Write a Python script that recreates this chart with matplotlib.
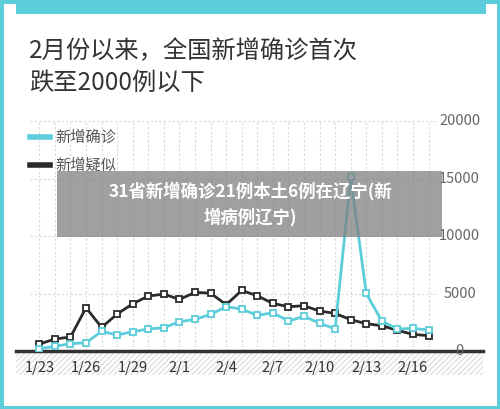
import matplotlib
matplotlib.use("Agg")
import matplotlib.pyplot as plt
from matplotlib.patches import Rectangle
import numpy as np

plt.rcParams['font.family'] = ['Noto Sans CJK SC', 'DejaVu Sans']

dates = ['1/23','1/24','1/25','1/26','1/27','1/28','1/29','1/30','1/31','2/1','2/2','2/3','2/4',
         '2/5','2/6','2/7','2/8','2/9','2/10','2/11','2/12','2/13','2/14','2/15','2/16','2/17']
confirmed = [203,406,638,725,1711,1392,1682,1914,2030,2552,2755,3190,3857,
             3654,3103,3335,2610,3016,2436,1914,15152,5017,2610,1914,1972,1827]
suspected = [609,1044,1218,3770,2059,3219,4118,4785,4959,4495,5104,5046,4031,
             5278,4814,4147,3857,3944,3480,3277,2726,2378,2204,1798,1450,1334]
yticks = [0,5000,10000,15000,20000]
title = "2月份以来，全国新增确诊首次\n跌至2000例以下"
legend_labels = ["新增确诊", "新增疑似"]
overlay = "31省新增确诊21例本土6例在辽宁(新\n增病例辽宁)"

CYAN = '#5ccdda'
DARK = '#2b2b2b'

fig = plt.figure(figsize=(5, 4.09), dpi=100)
W, H = 500, 409
def fx(px): return px / W
def fy(py): return 1 - py / H

fig.patches.append(Rectangle((0, 0), 1, 1, transform=fig.transFigure, fill=False,
                             edgecolor=CYAN, linewidth=5, zorder=-2))
fig.patches.append(Rectangle((fx(16), fy(14)), fx(470), 10/H, transform=fig.transFigure,
                             facecolor=CYAN, edgecolor='none', zorder=-2))
fig.patches.append(Rectangle((fx(16), fy(375)), fx(467), 24/H, transform=fig.transFigure,
                             facecolor='white', edgecolor='#e0e0e0', hatch='//////', lw=0, zorder=-1))

ax = fig.add_axes([fx(16), fy(351), fx(467), fy(110) - fy(351)])
ax.patch.set_alpha(0)
x = np.arange(len(dates))
ax.set_xlim(-1.5, 28.5)
ax.set_ylim(0, 21000)
for s in ['top', 'right', 'left']:
    ax.spines[s].set_visible(False)
ax.spines['bottom'].set_color('#333333')
ax.spines['bottom'].set_linewidth(2.5)
ax.set_yticks([])
for v in yticks:
    ax.plot([-0.6, 25.5], [v, v], ls=(0, (2, 2)), color='#d8d8d8', lw=0.8, zorder=1)
    ax.text(27.0, v, f"{v}", ha='center', va='center', fontsize=10.5, color='#666666')
for i in x:
    ax.plot([i, i], [0, 20000], ls=(0, (2, 2)), color='#d8d8d8', lw=0.8, zorder=1)
ax.set_xticks(x[::3])
ax.set_xticklabels(dates[::3], fontsize=10.5, color='#333333')
ax.tick_params(axis='x', length=0, pad=7)

ax.plot(x, suspected, color=DARK, lw=2, marker='s', ms=5, mfc='white', mec=DARK, mew=1.3, zorder=3)
ax.plot(x, confirmed, color=CYAN, lw=2, marker='s', ms=5, mfc='white', mec=CYAN, mew=1.3, zorder=4)

fig.text(fx(29), fy(67), title, fontsize=17.5, fontweight='medium', color='#333333',
         va='center', ha='left', linespacing=1.3)

fig.add_artist(plt.Line2D([fx(30), fx(50)], [fy(137), fy(137)], color=CYAN, lw=4, transform=fig.transFigure))
fig.add_artist(plt.Line2D([fx(30), fx(50)], [fy(165), fy(165)], color=DARK, lw=4, transform=fig.transFigure))
fig.text(fx(55), fy(137), legend_labels[0], fontsize=11, color='#555555', va='center')
fig.text(fx(55), fy(165), legend_labels[1], fontsize=11, color='#555555', va='center')

fig.patches.append(Rectangle((fx(57), fy(237)), fx(385), 66/H, transform=fig.transFigure,
                             facecolor='#808080', alpha=0.75, edgecolor='none', zorder=10))
fig.text(fx(250), fy(204), overlay, fontsize=12.5, fontweight='bold', color='white',
         ha='center', va='center', linespacing=1.45, zorder=11)

fig.savefig('out.png', dpi=100)
